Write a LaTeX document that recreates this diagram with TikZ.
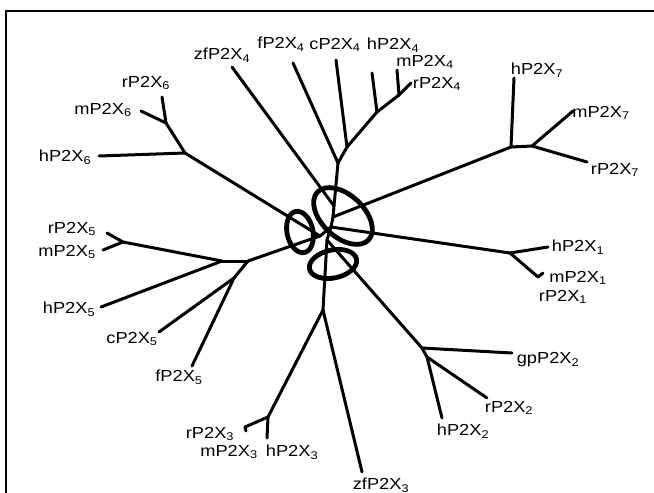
\documentclass[tikz,border=0pt]{standalone}
\usepackage{fontspec}
\setmainfont{Liberation Sans}[FakeStretch=1.14]
\newcommand{\recx}[2]{#1P2X\textsubscript{#2}}
\tikzset{
  branch/.style={line width=3pt, line cap=round, line join=round},
  ring/.style={line width=4.8pt},
  lab/.style={font=\fontsize{16}{18}\selectfont, inner sep=0pt}
}
\begin{document}
\begin{tikzpicture}[x=1pt,y=-1pt]
\useasboundingbox (0,0) rectangle (654,493);
\draw[line width=2pt] (6,493) -- (6,11) -- (654,11);

% inner nodes
\foreach \n/\x/\y in {n0/331/227,n1/320/236,n2/327/240,
  j4a/338/163,j4b/347/147,j4c/377/112,j4d/399/95,j4e/334/206,j4f/333/217,
  j7a/511/147,j7b/532/146,j1/510/253,j1b/538/277,
  j6a/166/123,j6b/185/153,j5a/123/242,j5b/222/261,j5c/248/261,j5d/234/278,
  j3/323/310,j3b/268/417,j2a/422/348,j2b/427/357}
  \coordinate (\n) at (\x,\y);

% leaves
\foreach \n/\x/\y in {zf4/232/67,f4/293/63,c4/336/60,h4/372/73,m4/397/70,r4/411/83,
  h7/514/78,m7/573/111,r7/587/162,h1/548/247,m1/543/273,
  h6/99/156,r6/162/97,m6/141/111,h5/101/307,r5/107/233,m5/103/250,f5/192/366,c5/159/332,
  zf3/362/472,h3/267/438,r3/245/427,m3/246/431,gp2/512/353,h2/442/418,r2/487/398}
  \coordinate (\n) at (\x,\y);

% tree
\foreach \a/\b in {n0/n1,n0/n2,n0/j4f,j4f/j4e,j4e/j4a,j4a/j4b,j4b/j4c,j4c/j4d,
  j4e/zf4,j4a/f4,j4b/c4,j4c/h4,j4d/m4,j4d/r4,
  j4f/j7a,j7a/h7,j7a/j7b,j7b/m7,j7b/r7,
  n0/j1,j1/h1,j1/j1b,j1b/m1,
  n1/j6b,j6b/h6,j6b/j6a,j6a/r6,j6a/m6,
  n1/j5c,j5c/j5b,j5b/h5,j5b/j5a,j5a/r5,j5a/m5,j5c/j5d,j5d/f5,j5d/c5,
  n2/j3,j3/zf3,j3/j3b,j3b/h3,j3b/r3,r3/m3,
  n2/j2a,j2a/gp2,j2a/j2b,j2b/h2,j2b/r2}
  \draw[branch] (\a) -- (\b);

% rings
\draw[ring,rotate around={102:(300,232)}] (300,232) ellipse [x radius=21pt,y radius=13pt];
\draw[ring,rotate around={-43:(343,216)}] (343,216) ellipse [x radius=35pt,y radius=21pt];
\draw[ring,rotate around={12:(333,264)}] (333,264) ellipse [x radius=24pt,y radius=14pt];

% labels
\foreach \n/\p/\s/\x/\y in {zf4/zf/4/222/55,f4/f/4/281/44,c4/c/4/335/45,h4/h/4/393/45,
  m4/m/4/425/62,r4/r/4/437/84,h7/h/7/537/70,m7/m/7/601/113,r7/r/7/615/170,
  h1/h/1/578/247,m1/m/1/578/278,r1/r/1/563/297,gp2/gp/2/548/360,r2/r/2/509/408,
  h2/h/2/463/431,zf3/zf/3/381/485,h3/h/3/292/452,m3/m/3/229/452,r3/r/3/210/434,
  f5/f/5/179/377,c5/c/5/132/339,h5/h/5/69/309,m5/m/5/67/252,r5/r/5/72/229,
  h6/h/6/65/157,m6/m/6/103/110,r6/r/6/146/83}
  \node[lab] (t-\n) at (\x,\y) {\recx{\p}{\s}};
\end{tikzpicture}
\end{document}
